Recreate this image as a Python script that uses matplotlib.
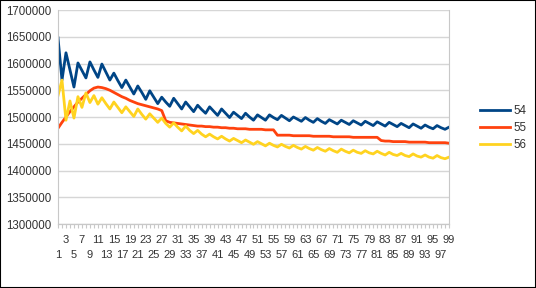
import matplotlib
matplotlib.use('Agg')
import matplotlib.pyplot as plt
from matplotlib.patches import Rectangle

plt.rcParams['font.family'] = ['Liberation Sans', 'DejaVu Sans']

# values in thousands, categories 1..99
categories = list(range(1, 100))

s54 = [1648, 1569, 1620, 1588, 1556, 1601, 1587, 1573, 1603, 1588,
       1574, 1599, 1584, 1569, 1582, 1568, 1555, 1569, 1556, 1543,
       1558, 1546, 1533, 1549, 1537, 1525, 1537, 1528, 1520, 1535,
       1525, 1515, 1528, 1519, 1510, 1522, 1514, 1507, 1519, 1511,
       1503, 1515, 1507, 1499, 1509, 1503, 1497, 1507, 1500, 1494,
       1504, 1499, 1494, 1504, 1499, 1495, 1503, 1498, 1493, 1500,
       1496, 1492, 1499, 1494, 1490, 1497, 1492, 1488, 1495, 1491,
       1487, 1494, 1490, 1486, 1493, 1489, 1485, 1492, 1488, 1484,
       1491, 1487, 1483, 1490, 1486, 1482, 1488, 1484, 1480, 1487,
       1483, 1479, 1485, 1481, 1478, 1484, 1480, 1477, 1481]

s55 = [1479, 1490, 1500, 1510, 1519, 1528, 1535, 1542, 1549, 1554,
       1556, 1555, 1553, 1550, 1546, 1542, 1538, 1535, 1531, 1528,
       1525, 1523, 1521, 1519, 1517, 1515, 1512, 1493, 1490, 1489,
       1488, 1487, 1486, 1485, 1484, 1483, 1483, 1482, 1482, 1481,
       1481, 1480, 1480, 1479, 1479, 1478, 1478, 1478, 1477, 1477,
       1477, 1477, 1476, 1476, 1476, 1466, 1466, 1466, 1466, 1465,
       1465, 1465, 1465, 1465, 1464, 1464, 1464, 1464, 1464, 1463,
       1463, 1463, 1463, 1463, 1462, 1462, 1462, 1462, 1462, 1462,
       1462, 1456, 1455, 1455, 1454, 1454, 1454, 1454, 1453, 1453,
       1453, 1453, 1453, 1452, 1452, 1452, 1452, 1452, 1451]

s56 = [1540, 1569, 1494, 1530, 1498, 1538, 1518, 1545, 1527, 1540,
       1524, 1536, 1525, 1515, 1528, 1518, 1508, 1519, 1510, 1501,
       1515, 1505, 1496, 1506, 1498, 1490, 1498, 1488, 1481, 1489,
       1481, 1474, 1483, 1475, 1469, 1475, 1468, 1463, 1468, 1463,
       1459, 1464, 1459, 1455, 1460, 1456, 1452, 1457, 1453, 1449,
       1454, 1450, 1446, 1451, 1447, 1444, 1449, 1445, 1442, 1447,
       1443, 1440, 1445, 1441, 1438, 1443, 1439, 1436, 1441, 1437,
       1434, 1440, 1436, 1433, 1438, 1434, 1432, 1437, 1433, 1431,
       1436, 1432, 1429, 1434, 1430, 1428, 1432, 1428, 1426, 1431,
       1427, 1425, 1429, 1425, 1423, 1428, 1424, 1422, 1425]

series = [('54', s54, '#004586'), ('55', s55, '#ff420e'), ('56', s56, '#ffd320')]

fig = plt.figure(figsize=(5.36, 2.88), dpi=100)
ax = fig.add_axes([58 / 536, 1 - 224 / 288, 391 / 536, 214 / 288])

for name, vals, col in series:
    ax.plot(categories, [v * 1000 for v in vals], color=col, linewidth=2.0, label=name)

ax.set_xlim(1, 99)
ax.set_ylim(1300000, 1700000)
ax.set_yticks(range(1300000, 1700001, 50000))
ax.set_yticklabels([str(v) for v in range(1300000, 1700001, 50000)])
ax.grid(axis='y', color='#d6d6d6', linewidth=1)
ax.set_axisbelow(True)

# odd categories are labelled on two staggered rows
upper = categories[2::4]   # 3, 7, 11, ...
lower = categories[0::4]   # 1, 5, 9, ...
ax.set_xticks(upper)
ax.set_xticklabels([str(c) for c in upper])
ax.set_xticks(lower, minor=True)
ax.set_xticklabels([str(c) for c in lower], minor=True)
ax.tick_params(axis='x', which='major', length=0, labelsize=8,
               labelcolor='#333333', pad=8)
ax.tick_params(axis='x', which='minor', length=0, labelsize=8,
               labelcolor='#333333', pad=19)
ax.tick_params(axis='y', length=0, labelsize=8.3, labelcolor='#333333', pad=5)

# small tick marks at every category
marks = ax.secondary_xaxis('bottom')
marks.set_xticks(categories)
marks.set_xticklabels([])
marks.tick_params(length=3, color='#c8c8c8')
marks.spines['bottom'].set_color('#c8c8c8')

for side in ['left', 'right', 'bottom']:
    ax.spines[side].set_color('#c8c8c8')
ax.spines['top'].set_visible(False)

fig.legend(loc='center left', bbox_to_anchor=(470 / 536, 1 - 128 / 288), frameon=False,
           fontsize=8.3, handlelength=2.6, handletextpad=0.3, labelspacing=0.45,
           labelcolor='#333333')

fig.patches.append(Rectangle((0, 0), 1, 1, transform=fig.transFigure, fill=False,
                             edgecolor='black', linewidth=1.5))

fig.savefig('out.png', dpi=100)
